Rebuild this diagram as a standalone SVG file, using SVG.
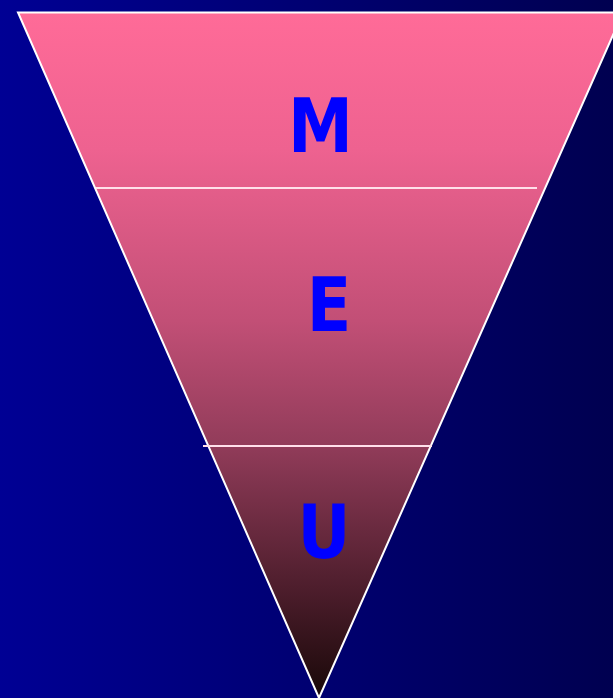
<svg xmlns="http://www.w3.org/2000/svg" width="613" height="698" viewBox="0 0 613 698">
<defs>
<linearGradient id="bg" x1="0" y1="0" x2="1" y2="0">
<stop offset="0" stop-color="#000094"/>
<stop offset="1" stop-color="#000050"/>
</linearGradient>
<linearGradient id="pk" gradientUnits="userSpaceOnUse" x1="0" y1="12" x2="0" y2="698">
<stop offset="0" stop-color="#FF6B98"/>
<stop offset="0.2" stop-color="#EE6290"/>
<stop offset="0.45" stop-color="#C24F76"/>
<stop offset="0.63" stop-color="#923C5A"/>
<stop offset="0.85" stop-color="#4A1C2A"/>
<stop offset="1" stop-color="#180808"/>
</linearGradient>
<style>
.t{font-family:"DejaVu Sans",sans-serif;font-weight:bold;font-size:75px;fill:#0000FF;text-anchor:middle}
.d{stroke:#FFE0EA;stroke-width:2}
</style>
</defs>
<rect width="613" height="698" fill="url(#bg)"/>
<g id="funnel">
<polygon points="18,12.5 623,12.5 319,698" fill="url(#pk)" stroke="#FFFFFF" stroke-width="2"/>
</g>
<g id="connectors">
<line class="d" x1="96" y1="188" x2="537" y2="188"/>
<line class="d" x1="203" y1="446" x2="432" y2="446"/>
</g>
<g id="M"><text class="t" transform="translate(320.5,152) scale(0.87,1)">M</text></g>
<g id="E"><text class="t" transform="translate(329,331) scale(0.87,1)">E</text></g>
<g id="U"><text class="t" transform="translate(324,558) scale(0.87,1)">U</text></g>
</svg>
